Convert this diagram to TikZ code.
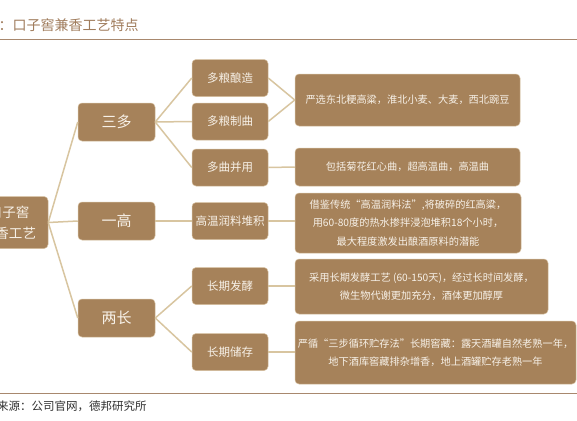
\documentclass[tikz,border=0pt]{standalone}
\usepackage{fontspec}
\setmainfont{Noto Sans CJK SC}
\definecolor{boxfill}{RGB}{166,130,90}
\definecolor{boxedge}{RGB}{214,192,160}
\definecolor{boxtext}{RGB}{247,241,232}
\definecolor{linkcol}{RGB}{216,197,160}
\definecolor{titlecol}{RGB}{160,124,92}
\definecolor{rulecol}{RGB}{168,136,110}
\definecolor{srccol}{RGB}{50,50,50}
\tikzset{
  bx/.style={rectangle, rounded corners=4pt, fill=boxfill, draw=boxedge, line width=0.5pt,
    text=boxtext, inner sep=0pt, align=center},
  lvone/.style={bx, minimum width=77pt, minimum height=38pt, font=\fontsize{15}{18}\selectfont},
  lvtwo/.style={bx, minimum width=76pt, minimum height=37pt, font=\fontsize{11.5}{14}\selectfont},
  lvthree/.style={bx, font=\fontsize{10.2}{18.5}\selectfont},
  link/.style={draw=linkcol, line width=1.5pt},
}
\begin{document}
\begin{tikzpicture}[x=1pt,y=-1pt]
\useasboundingbox (0,0) rectangle (577,420);
\clip (0,0) rectangle (577,420);
\fill[white] (0,0) rectangle (577,420);
% title and rules
\node[anchor=west, text=titlecol, inner sep=0pt, font=\fontsize{14}{16}\selectfont] (title) at (-15.5,25) {图：口子窖兼香工艺特点};
\draw[rulecol, line width=1pt] (0,40) -- (577,40);
\draw[rulecol, line width=1pt] (0,393) -- (577,393);
\node[anchor=west, text=srccol, inner sep=0pt, font=\fontsize{11.5}{14}\selectfont] (src) at (-26,406.5) {资料来源：公司官网，德邦研究所};
% root
\node[bx, minimum width=78pt, minimum height=52pt, font=\fontsize{13.5}{21}\selectfont] (root) at (9,222.5) {口子窖\\兼香工艺};
% level one
\node[lvone] (sanduo) at (116.5,122) {三多};
\node[lvone] (yigao) at (116.5,221) {一高};
\node[lvone] (liangchang) at (116.5,318) {两长};
% level two
\node[lvtwo] (niangzao) at (230,78) {多粮酿造};
\node[lvtwo] (zhiqu) at (230,121.5) {多粮制曲};
\node[lvtwo] (bingyong) at (230,167.5) {多曲并用};
\node[lvtwo] (runliao) at (230,221) {高温润料堆积};
\node[lvtwo] (fajiao) at (230,286) {长期发酵};
\node[lvtwo] (chucun) at (230,352) {长期储存};
% level three
\node[lvthree, minimum width=225pt, minimum height=52pt] (ba) at (407.5,100) {严选东北粳高粱，淮北小麦、大麦，西北豌豆};
\node[lvthree, minimum width=225pt, minimum height=38pt] (bb) at (407.5,167) {包括菊花红心曲，超高温曲，高温曲};
\node[lvthree, minimum width=226pt, minimum height=60pt] (bc) at (408,223) {借鉴传统“高温润料法”,将破碎的红高粱，\\用60-80度的热水掺拌浸泡堆积18个小时，\\最大程度激发出酿酒原料的潜能};
\node[lvthree, minimum width=253pt, minimum height=55pt] (bd) at (421.5,286.5) {采用长期发酵工艺 (60-150天)，经过长时间发酵，\\微生物代谢更加充分，酒体更加醇厚};
\node[lvthree, minimum width=281pt, minimum height=63pt] (be) at (435.5,352.5) {严循“三步循环贮存法”长期窖藏：露天酒罐自然老熟一年，\\地下酒库窖藏排杂增香，地上酒罐贮存老熟一年};
% connectors
\begin{scope}[on background layer/.style={}]
\draw[link] (root.east) -- (sanduo.west);
\draw[link] (root.east) -- (yigao.west);
\draw[link] (root.east) -- (liangchang.west);
\draw[link] (sanduo.east) -- (niangzao.west);
\draw[link] (sanduo.east) -- (zhiqu.west);
\draw[link] (sanduo.east) -- (bingyong.west);
\draw[link] (yigao.east) -- (runliao.west);
\draw[link] (liangchang.east) -- (fajiao.west);
\draw[link] (liangchang.east) -- (chucun.west);
\draw[link] (niangzao.east) -- (ba.west);
\draw[link] (zhiqu.east) -- (ba.west);
\draw[link] (bingyong.east) -- (bb.west);
\draw[link] (runliao.east) -- (runliao.east -| bc.west);
\draw[link] (fajiao.east) -- (fajiao.east -| bd.west);
\draw[link] (chucun.east) -- (chucun.east -| be.west);
\end{scope}
\end{tikzpicture}
\end{document}
